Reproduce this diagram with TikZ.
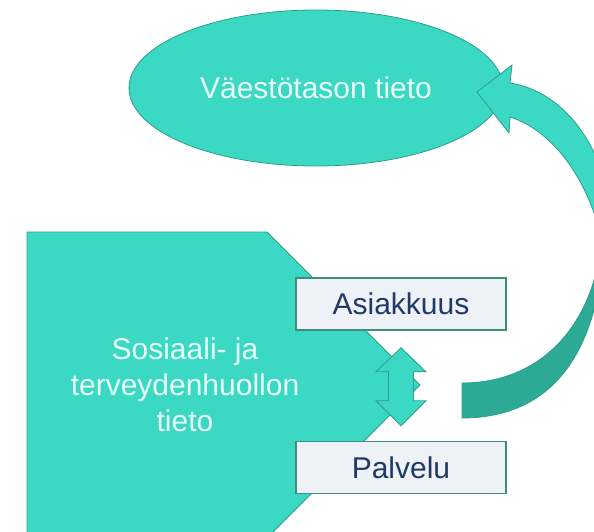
\documentclass[tikz,border=0pt]{standalone}
\usepackage{fontspec}
\setmainfont{Liberation Sans}
\usetikzlibrary{shapes.geometric,calc}
\definecolor{tealfront}{HTML}{3BD9C4}
\definecolor{tealback}{HTML}{2DAA95}
\definecolor{tealline}{HTML}{2E9E8B}
\definecolor{boxfill}{HTML}{EEF2F6}
\definecolor{boxline}{HTML}{3F8C80}
\definecolor{navy}{HTML}{1F3A68}
\definecolor{softwhite}{HTML}{E8FBF7}
\tikzset{
  blob/.style={fill=tealfront,draw=tealline,line width=0.8pt},
  blobback/.style={fill=tealback,draw=tealline,line width=0.8pt},
  tag/.style={rectangle,fill=boxfill,draw=boxline,line width=1.5pt,minimum width=210pt,minimum height=52pt,inner sep=0pt,text=navy,font=\fontsize{30}{36}\selectfont},
  lbl/.style={text=softwhite,font=\fontsize{30}{36}\selectfont,align=center}
}

\begin{document}
\begin{tikzpicture}[x=1pt,y=-1pt]
\useasboundingbox (0,0) rectangle (594,532);
\clip (0,0) rectangle (594,532);
% \draw[help lines,step=50] (0,0) grid (594,532);
\node (pop) [ellipse,blob,lbl,minimum width=374pt,minimum height=156pt,inner sep=0pt] at (316,88) {Väestötason tieto};
%
\filldraw[blob] (27,232) -- (267,232) -- (420,385) -- (267,538) -- (27,538) -- cycle;
\node (sote) [lbl] at (185,385) {Sosiaali- ja\\terveydenhuollon\\tieto};
%
\node (asiak) [tag] at (401,304) {Asiakkuus};
\node (palv) [tag] at (401,467.5) {Palvelu};
%
\coordinate (mid) at ($(asiak.south)!0.5!(palv.north)$);
\filldraw[blob] ($(mid)+(0,-38)$) -- ++(25,24) -- ++(-12.5,0) -- ++(0,29) -- ++(12.5,0)
  -- ++(-25,25) -- ++(-25,-25) -- ++(12.5,0) -- ++(0,-29) -- ++(-12.5,0) -- cycle;
%
\coordinate (tailtop) at (462,383);
\coordinate (tailbot) at (462,418);
\coordinate (backout) at (604,245);
\coordinate (backin) at (600,250);
\coordinate (frontout) at (610,200);
\coordinate (frontin) at (598,225);
\coordinate (tip) at (477,92);
\filldraw[blobback] (tailtop) -- (tailbot) .. controls (558,418) and (598,345) .. (backout)
  -- (backin) .. controls (592,320) and (545,383) .. (tailtop) -- cycle;
\filldraw[blob] (510,83) .. controls (555,90) and (595,130) .. (frontout)
  -- (frontin) .. controls (580,165) and (545,128) .. (510,117)
  -- (509,133) -- (tip) -- (512,65) -- cycle;
\end{tikzpicture}
\end{document}
